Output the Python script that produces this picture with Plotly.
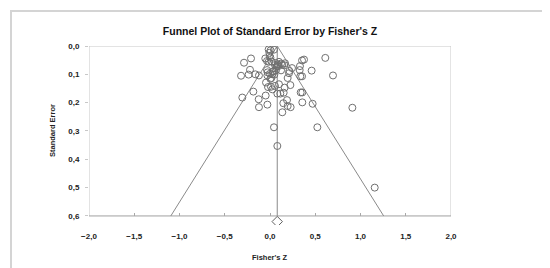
import plotly.graph_objects as go

# Study data: Fisher's Z and standard error
fisher_z = [-0.015, 0.007, 0.044, -0.007, -0.004, 0.004, -0.21, -0.287, 0.611, 0.354,
            0.376, -0.052, -0.033, -0.015, 0.018, 0.059, 0.099, 0.122, 0.166, 0.055,
            0.077, 0.092, 0.136, 0.158, 0.331, 0.243, -0.221, 0.460, 0.328, 0.214,
            0.210, -0.033, -0.026, 0.0, 0.044, 0.066, 0.122, -0.320, -0.236, -0.162,
            -0.122, 0.696, 0.335, 0.354, -0.029, 0.026, 0.048, 0.015, 0.004, 0.195,
            -0.044, -0.022, 0.011, 0.055, 0.099, 0.162, 0.225, 0.026, 0.081, 0.114,
            0.151, 0.339, 0.357, -0.184, -0.048, -0.125, -0.306, 0.188, 0.147, 0.195,
            0.228, 0.357, 0.471, -0.029, -0.122, 0.910, 0.136, 0.044, 0.523, 0.081,
            1.157, 0.030, 0.070, 0.085]
std_err = [0.012, 0.015, 0.013, 0.024, 0.035, 0.041, 0.044, 0.059, 0.042, 0.051,
           0.048, 0.044, 0.053, 0.056, 0.055, 0.060, 0.056, 0.062, 0.061, 0.067,
           0.071, 0.071, 0.067, 0.068, 0.071, 0.078, 0.084, 0.087, 0.085, 0.088,
           0.096, 0.085, 0.093, 0.098, 0.089, 0.086, 0.086, 0.105, 0.101, 0.100,
           0.104, 0.104, 0.107, 0.107, 0.104, 0.100, 0.101, 0.113, 0.116, 0.113,
           0.129, 0.145, 0.144, 0.141, 0.135, 0.147, 0.138, 0.153, 0.168, 0.168,
           0.165, 0.164, 0.164, 0.161, 0.175, 0.188, 0.182, 0.191, 0.202, 0.212,
           0.216, 0.199, 0.204, 0.207, 0.216, 0.218, 0.234, 0.287, 0.287, 0.353,
           0.500, 0.090, 0.075, 0.065]

summary_z = 0.08
summary_se = 0.62
max_se = 0.6
z_crit = 1.96

x_ticks = [-2.0, -1.5, -1.0, -0.5, 0.0, 0.5, 1.0, 1.5, 2.0]
y_ticks = [0.0, 0.1, 0.2, 0.3, 0.4, 0.5, 0.6]

title_text = "Funnel Plot of Standard Error by Fisher's Z"
x_title = "Fisher's Z"
y_title = "Standard Error"

line_col = "#8a8a8a"
font_fam = "Liberation Sans, Arial, sans-serif"

# Layout geometry (pixels)
W, H = 550, 268
plot_l, plot_r, plot_t = 81, 443, 38
px_per_se = 170 / max_se          # 0.6 SE spans 170 px
y_max_range = 0.632               # extra room below 0.6 for the summary diamond
plot_b = plot_t + y_max_range * px_per_se
plot_h = plot_b - plot_t
plot_w = plot_r - plot_l


def px_x(px):
    return (px - plot_l) / plot_w


def px_y(py):
    return (plot_b - py) / plot_h


fig = go.Figure()

# Funnel
fig.add_trace(go.Scatter(
    x=[summary_z - z_crit * max_se, summary_z, summary_z + z_crit * max_se],
    y=[max_se, 0, max_se],
    mode="lines", line=dict(color=line_col, width=1), hoverinfo="skip"))
fig.add_trace(go.Scatter(
    x=[summary_z, summary_z], y=[0, max_se],
    mode="lines", line=dict(color=line_col, width=1), hoverinfo="skip"))

# Studies
fig.add_trace(go.Scatter(
    x=fisher_z, y=std_err, mode="markers",
    marker=dict(symbol="circle-open", size=7, color="#707070", line=dict(width=1))))

# Summary diamond
fig.add_trace(go.Scatter(
    x=[summary_z], y=[summary_se], mode="markers",
    marker=dict(symbol="diamond-open", size=8, color="#606060", line=dict(width=1))))

tick_font = dict(family=font_fam, size=8, color="#222", weight="bold")

fig.update_layout(
    width=W, height=H,
    margin=dict(l=plot_l, r=W - plot_r, t=plot_t, b=H - plot_b),
    paper_bgcolor="white", plot_bgcolor="white",
    showlegend=False,
    separators=",.",
    title=dict(text=title_text, x=0.5, xref="paper", xanchor="center",
               y=1 - 23 / H, yanchor="middle",
               font=dict(family=font_fam, size=10.5, color="#111", weight="bold")),
    xaxis=dict(range=[-2, 2], tickvals=x_ticks, tickformat=".1f",
               showgrid=False, zeroline=False, showline=False,
               anchor="free", position=(y_max_range - max_se) / y_max_range,
               ticks="inside", ticklen=3, tickcolor="#a8a8a8",
               ticklabelstandoff=14, tickfont=tick_font),
    yaxis=dict(range=[y_max_range, 0], tickvals=y_ticks, tickformat=".1f",
               showgrid=False, zeroline=False, showline=False,
               ticks="outside", ticklen=3, tickcolor="#c8c8c8",
               ticklabelstandoff=4, tickfont=tick_font),
    annotations=[
        dict(text=x_title, xref="paper", yref="paper", x=0.5, y=px_y(250),
             xanchor="center", yanchor="middle", showarrow=False,
             font=dict(family=font_fam, size=7.5, color="#222", weight="bold")),
        dict(text=y_title, xref="paper", yref="paper", x=px_x(45), y=0.5 * (px_y(38) + px_y(208)),
             xanchor="center", yanchor="middle", showarrow=False, textangle=-90,
             font=dict(family=font_fam, size=7.5, color="#222", weight="bold")),
    ],
    shapes=[
        # plot frame: left/top/right light, bottom axis line darker
        dict(type="path", xref="x", yref="y",
             path=f"M -2 {max_se} L -2 0 L 2 0 L 2 {max_se}",
             line=dict(color="#c8c8c8", width=1), layer="below"),
        dict(type="line", xref="x", yref="y", x0=-2, x1=2, y0=max_se, y1=max_se,
             line=dict(color="#a0a0a0", width=1), layer="below"),
        # outer border
        dict(type="rect", xref="paper", yref="paper",
             x0=px_x(3), x1=px_x(546), y0=px_y(264), y1=px_y(3),
             line=dict(color="#d4d4d4", width=2), layer="below"),
    ],
)

fig.write_html("out.html")
